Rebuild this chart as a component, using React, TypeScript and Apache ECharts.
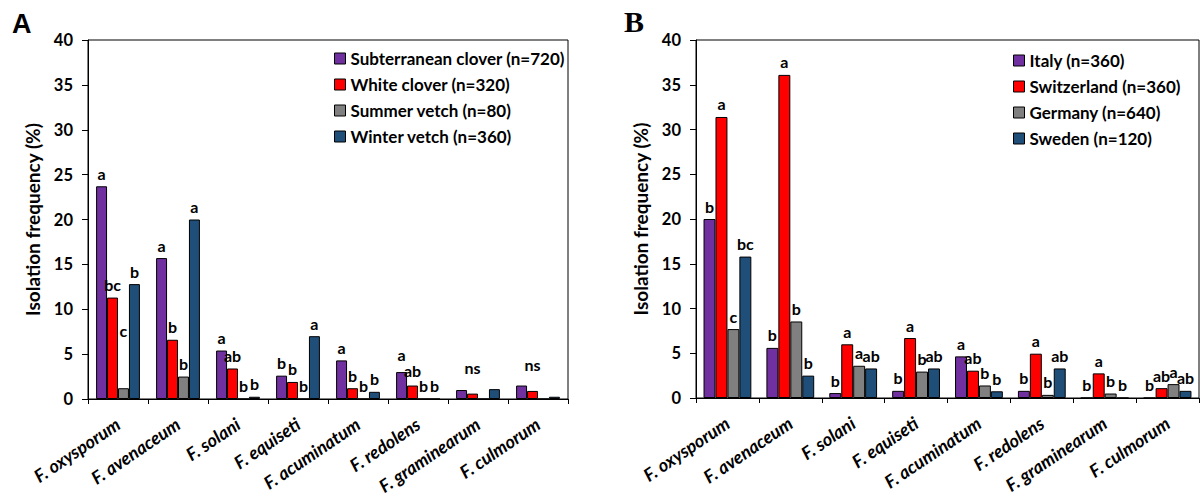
import React, { useEffect, useRef } from "react";
import * as echarts from "echarts";

const categories = [
  "F. oxysporum",
  "F. avenaceum",
  "F. solani",
  "F. equiseti",
  "F. acuminatum",
  "F. redolens",
  "F. graminearum",
  "F. culmorum",
];

// Panel A – host plants
const hostNames = [
  "Subterranean clover (n=720)",
  "White clover (n=320)",
  "Summer vetch (n=80)",
  "Winter vetch (n=360)",
];
const subterraneanClover = [23.7, 15.7, 5.4, 2.6, 4.3, 3.0, 1.0, 1.5];
const whiteClover = [11.3, 6.6, 3.4, 1.9, 1.2, 1.5, 0.6, 0.9];
const summerVetch = [1.2, 2.5, 0, 0, 0, 0, 0, 0];
const winterVetch = [12.8, 20.0, 0.25, 7.0, 0.8, 0, 1.1, 0.25];
const subterraneanLetters = ["a", "a", "a", "b", "a", "a", "", ""];
const whiteLetters = ["bc", "b", "ab", "b", "b", "ab", "ns", "ns"];
const summerLetters = ["c", "b", "b", "b", "b", "b", "", ""];
const winterLetters = ["b", "a", "b", "a", "b", "b", "", ""];

// Panel B – countries
const countryNames = [
  "Italy (n=360)",
  "Switzerland (n=360)",
  "Germany (n=640)",
  "Sweden (n=120)",
];
const italy = [20.0, 5.6, 0.55, 0.8, 4.65, 0.8, 0, 0];
const switzerland = [31.4, 36.1, 6.0, 6.7, 3.05, 4.95, 2.75, 1.1];
const germany = [7.7, 8.55, 3.6, 2.95, 1.4, 0.35, 0.5, 1.55];
const sweden = [15.8, 2.5, 3.3, 3.3, 0.75, 3.3, 0, 0.8];
const italyLetters = ["b", "b", "b", "b", "a", "b", "b", "b"];
const switzerlandLetters = ["a", "a", "a", "a", "ab", "a", "a", "ab"];
const germanyLetters = ["c", "b", "a", "b", "b", "b", "b", "a"];
const swedenLetters = ["bc", "b", "ab", "ab", "b", "ab", "b", "ab"];

const yTicks = { min: 0, max: 40, interval: 5 };

const colors = ["#7030A0", "#FF0000", "#808080", "#1F4E79"];
const FONT = "Lato, 'Open Sans', sans-serif";

// label placement tweaks (style only): key = series name + category index
const labelDistanceOverride: Record<string, number> = {
  "Summer vetch (n=80)|0": 50,
  "Subterranean clover (n=720)|5": 10,
  "White clover (n=320)|5": 7,
};

function makeSeries(
  name: string,
  values: number[],
  letters: string[],
  color: string,
  axisIndex: number,
  catGap: string
) {
  return {
    type: "bar",
    name,
    xAxisIndex: axisIndex,
    yAxisIndex: axisIndex,
    barGap: "0%",
    barCategoryGap: catGap,
    itemStyle: { color, borderColor: "#000", borderWidth: 1 },
    data: values.map((v, i) => {
      const key = name + "|" + i;
      const dist =
        labelDistanceOverride[key] !== undefined
          ? labelDistanceOverride[key]
          : letters[i] === "ns"
          ? 18
          : 5;
      return {
        value: v,
        label: {
          show: letters[i] !== "",
          position: "top",
          distance: dist,
          formatter: letters[i],
          fontFamily: FONT,
          fontWeight: "bold",
          fontSize: 16,
          lineHeight: 16,
          color: "#000",
        },
      };
    }),
  };
}

function xAxisDef(gridIndex: number) {
  return {
    type: "category",
    gridIndex,
    data: categories,
    axisLine: { lineStyle: { color: "#000", width: 1 } },
    axisTick: { show: true, length: 5, lineStyle: { color: "#000" } },
    axisLabel: {
      rotate: 34,
      interval: 0,
      margin: 23,
      fontFamily: FONT,
      fontStyle: "italic",
      fontWeight: "bold",
      fontSize: 18,
      color: "#000",
    },
  };
}

function yAxisDef(gridIndex: number) {
  return {
    type: "value",
    gridIndex,
    min: yTicks.min,
    max: yTicks.max,
    interval: yTicks.interval,
    name: "Isolation frequency (%)",
    nameLocation: "middle",
    nameGap: 46,
    nameTextStyle: {
      fontFamily: FONT,
      fontWeight: "bold",
      fontSize: 19,
      color: "#000",
    },
    axisLine: { show: true, lineStyle: { color: "#000", width: 1 } },
    axisTick: { show: true, length: 6, lineStyle: { color: "#000" } },
    splitLine: { show: false },
    axisLabel: {
      margin: 15,
      fontFamily: FONT,
      fontWeight: "bold",
      fontSize: 16.5,
      color: "#000",
    },
  };
}

function legendDef(names: string[], left: number, top: number) {
  return {
    orient: "vertical",
    left,
    top,
    padding: 0,
    data: names,
    icon: "rect",
    itemWidth: 11,
    itemHeight: 11,
    itemGap: 7,
    itemStyle: { borderColor: "#000", borderWidth: 1 },
    textStyle: {
      fontFamily: FONT,
      fontWeight: "bold",
      fontSize: 17,
      lineHeight: 19,
      color: "#000",
    },
  };
}

export default function App() {
  const ref = useRef<HTMLDivElement>(null);

  useEffect(() => {
    if (!ref.current) return;
    const chart = echarts.init(ref.current, undefined, { renderer: "svg" });
    const option = {
      animation: false,
      backgroundColor: "#fff",
      grid: [
        {
          left: 88,
          right: 632,
          top: 40,
          bottom: 98,
          show: true,
          borderColor: "#000",
          borderWidth: 1,
          backgroundColor: "transparent",
        },
        {
          left: 696,
          right: 1,
          top: 40,
          bottom: 99,
          show: true,
          borderColor: "#000",
          borderWidth: 1,
          backgroundColor: "transparent",
        },
      ],
      xAxis: [xAxisDef(0), xAxisDef(1)],
      yAxis: [yAxisDef(0), yAxisDef(1)],
      legend: [legendDef(hostNames, 334, 49), legendDef(countryNames, 1013, 51)],
      graphic: [
        {
          type: "text",
          left: 12,
          top: 10,
          style: {
            text: "A",
            fontFamily: "'Liberation Sans', Arial, sans-serif",
            fontWeight: "bold",
            fontSize: 27,
            fill: "#000",
          },
        },
        {
          type: "text",
          left: 624,
          top: 6,
          style: {
            text: "B",
            fontFamily: "'Liberation Serif', 'Times New Roman', serif",
            fontWeight: "bold",
            fontSize: 30,
            fill: "#000",
          },
        },
      ],
      series: [
        makeSeries(hostNames[0], subterraneanClover, subterraneanLetters, colors[0], 0, "27%"),
        makeSeries(hostNames[1], whiteClover, whiteLetters, colors[1], 0, "27%"),
        makeSeries(hostNames[2], summerVetch, summerLetters, colors[2], 0, "27%"),
        makeSeries(hostNames[3], winterVetch, winterLetters, colors[3], 0, "27%"),
        makeSeries(countryNames[0], italy, italyLetters, colors[0], 1, "24%"),
        makeSeries(countryNames[1], switzerland, switzerlandLetters, colors[1], 1, "24%"),
        makeSeries(countryNames[2], germany, germanyLetters, colors[2], 1, "24%"),
        makeSeries(countryNames[3], sweden, swedenLetters, colors[3], 1, "24%"),
      ],
    };
    chart.setOption(option as any);
    return () => chart.dispose();
  }, []);

  return (
    <div
      ref={ref}
      style={{ position: "absolute", left: 0, top: 0, width: 1200, height: 497 }}
    />
  );
}
